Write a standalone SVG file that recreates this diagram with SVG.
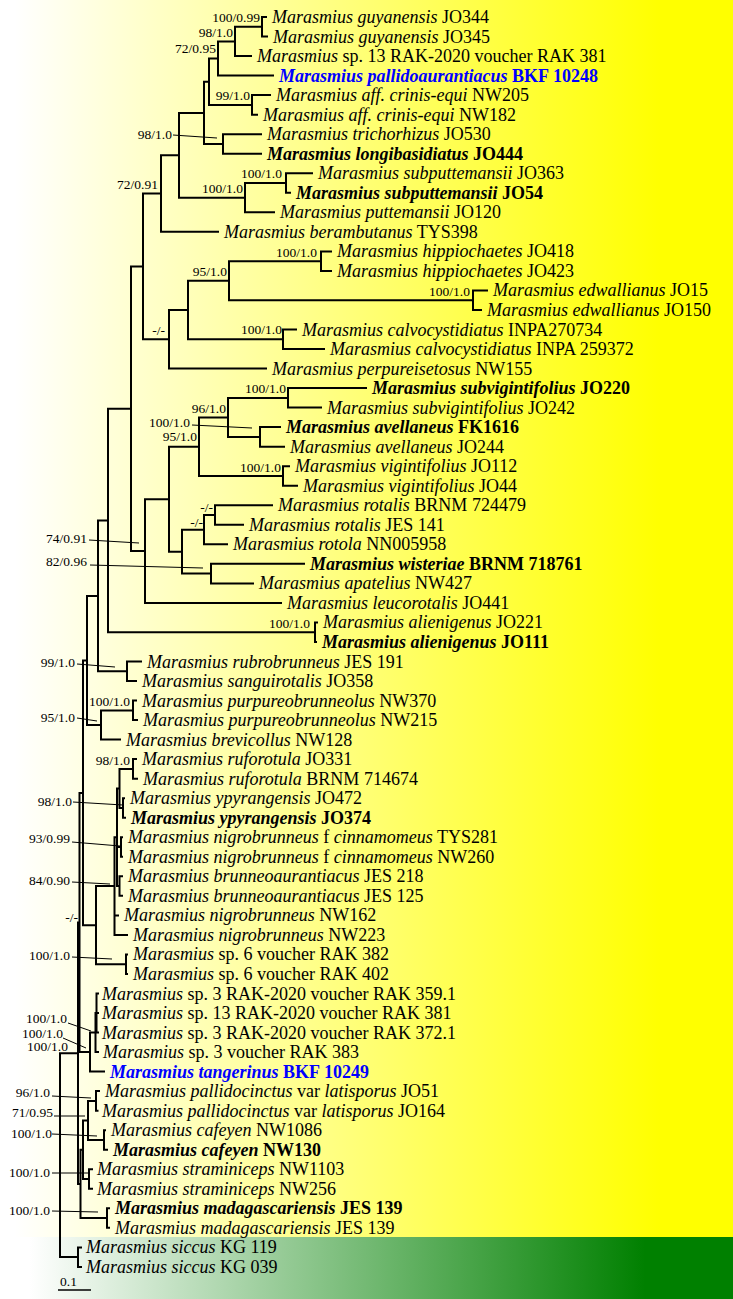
<svg xmlns="http://www.w3.org/2000/svg" width="733" height="1299" viewBox="0 0 733 1299">
<defs>
<linearGradient id="gy" x1="0" y1="0" x2="1" y2="0">
<stop offset="0.02" stop-color="#ffffff"/>
<stop offset="0.9" stop-color="#ffff00"/>
</linearGradient>
<linearGradient id="gg" x1="0" y1="0" x2="1" y2="0">
<stop offset="0.04" stop-color="#ffffff"/>
<stop offset="0.88" stop-color="#008000"/>
</linearGradient>
<style>
.br{fill:none;stroke:#000;stroke-width:2;stroke-linejoin:miter}
.ld{fill:none;stroke:#000;stroke-width:1}
.t{font-family:"Liberation Serif","Times New Roman",serif;font-size:18px;fill:#000}
.b{font-weight:bold}
.bl{fill:#0000ff;font-weight:bold}
.i{font-style:italic}
.s{font-family:"Liberation Serif","Times New Roman",serif;font-size:13.5px;fill:#000;text-anchor:end}
</style>
</defs>
<rect x="0" y="0" width="733" height="1237" fill="url(#gy)"/>
<rect x="0" y="1237" width="733" height="62" fill="url(#gg)"/>
<g id="connectors">
<path class="br" d="M267,17 H262 V36.5 H268"/>
<path class="br" d="M262,26.8 H235 V56.1 H252"/>
<path class="br" d="M235,41.4 H218 V75.6 H274"/>
<path class="br" d="M271,95.1 H252 V114.7 H258"/>
<path class="br" d="M218,58.5 H209 V104.9 H252"/>
<path class="br" d="M262,134.2 H223 V153.7 H262"/>
<path class="br" d="M209,81.7 H204 V144 H223"/>
<path class="br" d="M313,173.2 H286 V192.8 H291"/>
<path class="br" d="M286,183 H245 V212.3 H275"/>
<path class="br" d="M204,112.9 H179 V197.7 H245"/>
<path class="br" d="M179,155.3 H161 V231.8 H219"/>
<path class="br" d="M332,251.4 H321 V270.9 H332"/>
<path class="br" d="M488,290.4 H473 V310 H482"/>
<path class="br" d="M321,261.2 H229 V300.2 H473"/>
<path class="br" d="M297,329.5 H283 V349 H325"/>
<path class="br" d="M229,280.7 H188 V339.3 H283"/>
<path class="br" d="M188,310 H169 V368.5 H267"/>
<path class="br" d="M161,193.6 H143 V339.3 H169"/>
<path class="br" d="M367,388.1 H288 V407.6 H322"/>
<path class="br" d="M281,427.1 H260 V446.7 H285"/>
<path class="br" d="M288,397.9 H228 V436.9 H260"/>
<path class="br" d="M290,466.2 H283 V485.7 H298"/>
<path class="br" d="M228,417.4 H199 V476 H283"/>
<path class="br" d="M273,505.3 H215 V524.8 H244"/>
<path class="br" d="M215,515 H204 V544.3 H228"/>
<path class="br" d="M305,563.8 H211 V583.4 H254"/>
<path class="br" d="M204,529.7 H182 V573.6 H211"/>
<path class="br" d="M199,446.7 H169 V551.7 H182"/>
<path class="br" d="M169,499.2 H145 V602.9 H282"/>
<path class="br" d="M143,266.5 H131 V551 H145"/>
<path class="br" d="M318,622.4 H315 V642 H317"/>
<path class="br" d="M131,408.8 H108 V632.2 H315"/>
<path class="br" d="M142,661.5 H127 V681 H137"/>
<path class="br" d="M108,520.5 H98 V671.3 H127"/>
<path class="br" d="M137,700.6 H133 V720.1 H138"/>
<path class="br" d="M133,710.4 H101 V739.6 H121"/>
<path class="br" d="M98,595.9 H87 V725 H101"/>
<path class="br" d="M137,759.1 H133 V778.7 H138"/>
<path class="br" d="M125,798.2 H123 V817.7 H126"/>
<path class="br" d="M133,768.9 H119.5 V808 H123"/>
<path class="br" d="M123,837.3 H121 V856.8 H123"/>
<path class="br" d="M123,876.3 H119.5 V895.8 H123"/>
<path class="br" d="M119.5,788.5 H117 V886.1 H119.5 M117,847 H121"/>
<path class="br" d="M117,837.3 H114.5 V934.9 H128 M114.5,915.4 H119"/>
<path class="br" d="M128,954.4 H126 V974 H128"/>
<path class="br" d="M114.5,886.1 H96 V964.2 H126"/>
<path class="br" d="M87,660.5 H83 V925.2 H96"/>
<path class="br" d="M99,993.5 H96.5 V1032.6 H99 M96.5,1013 H99"/>
<path class="br" d="M96.5,1013 H95.5 V1052.1 H99"/>
<path class="br" d="M95.5,1032.6 H90 V1071.6 H105"/>
<path class="br" d="M83,792.9 H79.5 V1052.1 H90"/>
<path class="br" d="M100,1091.1 H96 V1110.7 H98.5"/>
<path class="br" d="M106,1130.2 H104 V1149.7 H108"/>
<path class="br" d="M96,1100.9 H88 V1140 H104"/>
<path class="br" d="M93,1169.3 H89 V1188.8 H93"/>
<path class="br" d="M88,1120.4 H83 V1179 H89"/>
<path class="br" d="M110,1208.3 H107 V1227.8 H110"/>
<path class="br" d="M83,1149.7 H80.5 V1218 H107"/>
<path class="br" d="M79.5,922.5 H78 V1183.9 H80.5"/>
<path class="br" d="M82,1247.4 H78 V1266.9 H82"/>
<path class="br" d="M78,1053.2 H60 V1257.1 H78"/>
<path class="ld" d="M173,135 L217,138 M192,425 L252,428 M89,540 L139,543 M90,565 L203,568 M77,664 L115,667 M77,718 L97,721 M73,802 L123,805 M72,842 L120,846 M72,882 L110,884 M72,957 L112,959 M68,1023 L91,1031 M63,1038 L86,1048 M52,1096 L91,1098 M54,1116 L85,1116 M52,1134 L97,1136 M52,1173 L88,1173 M52,1211 L98,1212"/>
</g>
<g id="support-values">
<text class="s" x="260" y="22">100/0.99</text>
<text class="s" x="233" y="37">98/1.0</text>
<text class="s" x="216" y="53">72/0.95</text>
<text class="s" x="250" y="100">99/1.0</text>
<text class="s" x="172" y="139">98/1.0</text>
<text class="s" x="282" y="178">100/1.0</text>
<text class="s" x="243" y="193">100/1.0</text>
<text class="s" x="158" y="189">72/0.91</text>
<text class="s" x="317" y="257">100/1.0</text>
<text class="s" x="470" y="296">100/1.0</text>
<text class="s" x="227" y="276">95/1.0</text>
<text class="s" x="282" y="334">100/1.0</text>
<text class="s" x="165" y="335">-/-</text>
<text class="s" x="286" y="393">100/1.0</text>
<text class="s" x="226" y="413">96/1.0</text>
<text class="s" x="190" y="427">100/1.0</text>
<text class="s" x="197" y="441">95/1.0</text>
<text class="s" x="281" y="472">100/1.0</text>
<text class="s" x="213" y="512">-/-</text>
<text class="s" x="203" y="527">-/-</text>
<text class="s" x="87" y="543">74/0.91</text>
<text class="s" x="87" y="566">82/0.96</text>
<text class="s" x="310" y="628">100/1.0</text>
<text class="s" x="75" y="667">99/1.0</text>
<text class="s" x="130" y="706">100/1.0</text>
<text class="s" x="75" y="722">95/1.0</text>
<text class="s" x="130" y="765">98/1.0</text>
<text class="s" x="72" y="806">98/1.0</text>
<text class="s" x="70" y="843">93/0.99</text>
<text class="s" x="70" y="885">84/0.90</text>
<text class="s" x="78" y="922">-/-</text>
<text class="s" x="70" y="960">100/1.0</text>
<text class="s" x="67" y="1023">100/1.0</text>
<text class="s" x="63" y="1038">100/1.0</text>
<text class="s" x="68" y="1051">100/1.0</text>
<text class="s" x="50" y="1097">96/1.0</text>
<text class="s" x="53" y="1117">71/0.95</text>
<text class="s" x="52" y="1138">100/1.0</text>
<text class="s" x="50" y="1177">100/1.0</text>
<text class="s" x="50" y="1215">100/1.0</text>
</g>
<g id="scale-bar">
<text x="60" y="1286" font-family="Liberation Serif, serif" font-size="13.5">0.1</text>
<path d="M58,1290 H91" stroke="#000" stroke-width="1.5"/>
</g>
<g id="taxa">
<g id="t01"><text class="t" x="272" y="23"><tspan class="i">Marasmius guyanensis</tspan> JO344</text></g>
<g id="t02"><text class="t" x="273" y="42.5"><tspan class="i">Marasmius guyanensis</tspan> JO345</text></g>
<g id="t03"><text class="t" x="257" y="62.1"><tspan class="i">Marasmius</tspan> sp. 13 RAK-2020 voucher RAK 381</text></g>
<g id="t04"><text class="t bl" x="279" y="81.6"><tspan class="i">Marasmius pallidoaurantiacus</tspan> BKF 10248</text></g>
<g id="t05"><text class="t" x="276" y="101.1"><tspan class="i">Marasmius aff. crinis-equi</tspan> NW205</text></g>
<g id="t06"><text class="t" x="263" y="120.7"><tspan class="i">Marasmius aff. crinis-equi</tspan> NW182</text></g>
<g id="t07"><text class="t" x="267" y="140.2"><tspan class="i">Marasmius trichorhizus</tspan> JO530</text></g>
<g id="t08"><text class="t b" x="267" y="159.7"><tspan class="i">Marasmius longibasidiatus</tspan> JO444</text></g>
<g id="t09"><text class="t" x="318" y="179.2"><tspan class="i">Marasmius subputtemansii</tspan> JO363</text></g>
<g id="t10"><text class="t b" x="296" y="198.8"><tspan class="i">Marasmius subputtemansii</tspan> JO54</text></g>
<g id="t11"><text class="t" x="280" y="218.3"><tspan class="i">Marasmius puttemansii</tspan> JO120</text></g>
<g id="t12"><text class="t" x="224" y="237.8"><tspan class="i">Marasmius berambutanus</tspan> TYS398</text></g>
<g id="t13"><text class="t" x="337" y="257.4"><tspan class="i">Marasmius hippiochaetes</tspan> JO418</text></g>
<g id="t14"><text class="t" x="337" y="276.9"><tspan class="i">Marasmius hippiochaetes</tspan> JO423</text></g>
<g id="t15"><text class="t" x="493" y="296.4"><tspan class="i">Marasmius edwallianus</tspan> JO15</text></g>
<g id="t16"><text class="t" x="487" y="316"><tspan class="i">Marasmius edwallianus</tspan> JO150</text></g>
<g id="t17"><text class="t" x="302" y="335.5"><tspan class="i">Marasmius calvocystidiatus</tspan> INPA270734</text></g>
<g id="t18"><text class="t" x="330" y="355"><tspan class="i">Marasmius calvocystidiatus</tspan> INPA 259372</text></g>
<g id="t19"><text class="t" x="272" y="374.5"><tspan class="i">Marasmius perpureisetosus</tspan> NW155</text></g>
<g id="t20"><text class="t b" x="372" y="394.1"><tspan class="i">Marasmius subvigintifolius</tspan> JO220</text></g>
<g id="t21"><text class="t" x="327" y="413.6"><tspan class="i">Marasmius subvigintifolius</tspan> JO242</text></g>
<g id="t22"><text class="t b" x="286" y="433.1"><tspan class="i">Marasmius avellaneus</tspan> FK1616</text></g>
<g id="t23"><text class="t" x="290" y="452.7"><tspan class="i">Marasmius avellaneus</tspan> JO244</text></g>
<g id="t24"><text class="t" x="295" y="472.2"><tspan class="i">Marasmius vigintifolius</tspan> JO112</text></g>
<g id="t25"><text class="t" x="303" y="491.7"><tspan class="i">Marasmius vigintifolius</tspan> JO44</text></g>
<g id="t26"><text class="t" x="278" y="511.3"><tspan class="i">Marasmius rotalis</tspan> BRNM 724479</text></g>
<g id="t27"><text class="t" x="249" y="530.8"><tspan class="i">Marasmius rotalis</tspan> JES 141</text></g>
<g id="t28"><text class="t" x="233" y="550.3"><tspan class="i">Marasmius rotola</tspan> NN005958</text></g>
<g id="t29"><text class="t b" x="310" y="569.8"><tspan class="i">Marasmius wisteriae</tspan> BRNM 718761</text></g>
<g id="t30"><text class="t" x="259" y="589.4"><tspan class="i">Marasmius apatelius</tspan> NW427</text></g>
<g id="t31"><text class="t" x="287" y="608.9"><tspan class="i">Marasmius leucorotalis</tspan> JO441</text></g>
<g id="t32"><text class="t" x="323" y="628.4"><tspan class="i">Marasmius alienigenus</tspan> JO221</text></g>
<g id="t33"><text class="t b" x="322" y="648"><tspan class="i">Marasmius alienigenus</tspan> JO111</text></g>
<g id="t34"><text class="t" x="147" y="667.5"><tspan class="i">Marasmius rubrobrunneus</tspan> JES 191</text></g>
<g id="t35"><text class="t" x="142" y="687"><tspan class="i">Marasmius sanguirotalis</tspan> JO358</text></g>
<g id="t36"><text class="t" x="142" y="706.6"><tspan class="i">Marasmius purpureobrunneolus</tspan> NW370</text></g>
<g id="t37"><text class="t" x="143" y="726.1"><tspan class="i">Marasmius purpureobrunneolus</tspan> NW215</text></g>
<g id="t38"><text class="t" x="126" y="745.6"><tspan class="i">Marasmius brevicollus</tspan> NW128</text></g>
<g id="t39"><text class="t" x="142" y="765.1"><tspan class="i">Marasmius ruforotula</tspan> JO331</text></g>
<g id="t40"><text class="t" x="143" y="784.7"><tspan class="i">Marasmius ruforotula</tspan> BRNM 714674</text></g>
<g id="t41"><text class="t" x="130" y="804.2"><tspan class="i">Marasmius ypyrangensis</tspan> JO472</text></g>
<g id="t42"><text class="t b" x="131" y="823.7"><tspan class="i">Marasmius ypyrangensis</tspan> JO374</text></g>
<g id="t43"><text class="t" x="128" y="843.3"><tspan class="i">Marasmius nigrobrunneus</tspan> f <tspan class="i">cinnamomeus</tspan> TYS281</text></g>
<g id="t44"><text class="t" x="128" y="862.8"><tspan class="i">Marasmius nigrobrunneus</tspan> f <tspan class="i">cinnamomeus</tspan> NW260</text></g>
<g id="t45"><text class="t" x="128" y="882.3"><tspan class="i">Marasmius brunneoaurantiacus</tspan> JES 218</text></g>
<g id="t46"><text class="t" x="128" y="901.8"><tspan class="i">Marasmius brunneoaurantiacus</tspan> JES 125</text></g>
<g id="t47"><text class="t" x="124" y="921.4"><tspan class="i">Marasmius nigrobrunneus</tspan> NW162</text></g>
<g id="t48"><text class="t" x="133" y="940.9"><tspan class="i">Marasmius nigrobrunneus</tspan> NW223</text></g>
<g id="t49"><text class="t" x="133" y="960.4"><tspan class="i">Marasmius</tspan> sp. 6 voucher RAK 382</text></g>
<g id="t50"><text class="t" x="133" y="980"><tspan class="i">Marasmius</tspan> sp. 6 voucher RAK 402</text></g>
<g id="t51"><text class="t" x="102" y="999.5"><tspan class="i">Marasmius</tspan> sp. 3 RAK-2020 voucher RAK 359.1</text></g>
<g id="t52"><text class="t" x="102" y="1019"><tspan class="i">Marasmius</tspan> sp. 13 RAK-2020 voucher RAK 381</text></g>
<g id="t53"><text class="t" x="102" y="1038.6"><tspan class="i">Marasmius</tspan> sp. 3 RAK-2020 voucher RAK 372.1</text></g>
<g id="t54"><text class="t" x="103" y="1058.1"><tspan class="i">Marasmius</tspan> sp. 3 voucher RAK 383</text></g>
<g id="t55"><text class="t bl" x="110" y="1077.6"><tspan class="i">Marasmius tangerinus</tspan> BKF 10249</text></g>
<g id="t56"><text class="t" x="105" y="1097.1"><tspan class="i">Marasmius pallidocinctus</tspan> var <tspan class="i">latisporus</tspan> JO51</text></g>
<g id="t57"><text class="t" x="102" y="1116.7"><tspan class="i">Marasmius pallidocinctus</tspan> var <tspan class="i">latisporus</tspan> JO164</text></g>
<g id="t58"><text class="t" x="111" y="1136.2"><tspan class="i">Marasmius cafeyen</tspan> NW1086</text></g>
<g id="t59"><text class="t b" x="113" y="1155.7"><tspan class="i">Marasmius cafeyen</tspan> NW130</text></g>
<g id="t60"><text class="t" x="97" y="1175.3"><tspan class="i">Marasmius straminiceps</tspan> NW1103</text></g>
<g id="t61"><text class="t" x="97" y="1194.8"><tspan class="i">Marasmius straminiceps</tspan> NW256</text></g>
<g id="t62"><text class="t b" x="115" y="1214.3"><tspan class="i">Marasmius madagascariensis</tspan> JES 139</text></g>
<g id="t63"><text class="t" x="115" y="1233.8"><tspan class="i">Marasmius madagascariensis</tspan> JES 139</text></g>
<g id="t64"><text class="t" x="86" y="1253.4"><tspan class="i">Marasmius siccus</tspan> KG 119</text></g>
<g id="t65"><text class="t" x="86" y="1272.9"><tspan class="i">Marasmius siccus</tspan> KG 039</text></g>
</g>
</svg>
